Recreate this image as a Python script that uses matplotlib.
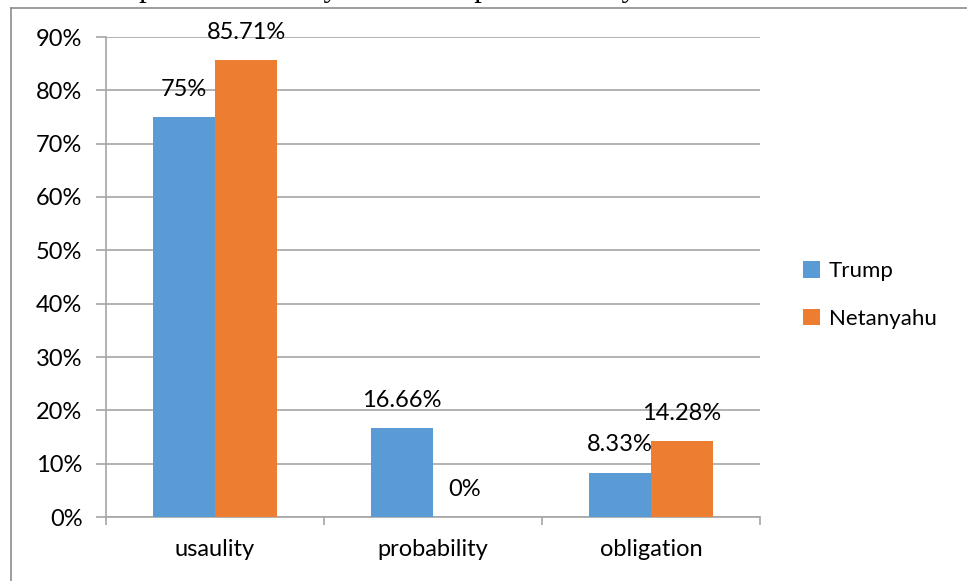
import matplotlib
matplotlib.use("Agg")
import matplotlib.pyplot as plt
from matplotlib.lines import Line2D
from matplotlib.patches import Patch
import numpy as np

categories = ["usaulity", "probability", "obligation"]
series_names = ["Trump", "Netanyahu"]
trump = [75.0, 16.66, 8.33]
netanyahu = [85.71, 0.0, 14.28]
value_labels = {
    "Trump": ["75%", "16.66%", "8.33%"],
    "Netanyahu": ["85.71%", "0%", "14.28%"],
}
y_ticks = [0, 10, 20, 30, 40, 50, 60, 70, 80, 90]
y_tick_labels = [f"{t}%" for t in y_ticks]

blue = "#5B9BD5"
orange = "#ED7D31"
grid_c = "#A6A6A6"
font = ["Lato", "DejaVu Sans"]
fs = 17

W, H = 967, 581
fig = plt.figure(figsize=(W / 100, H / 100), dpi=100)

# caption line above the chart frame (mostly outside the page area)
fig.text(40 / W, 1 + 4 / H, "modal operators used by both Trump and Netanyahu.",
         family=["Liberation Serif"], fontsize=22, va="baseline", ha="left",
         color="#000000")

# chart frame
fig.add_artist(Line2D([11 / W, 1.0], [1 - 8 / H, 1 - 8 / H], color="#8C8C8C", lw=1.2))
fig.add_artist(Line2D([11 / W, 11 / W], [0, 1 - 8 / H], color="#8C8C8C", lw=1.2))

ax = fig.add_axes([106 / W, (H - 517) / H, 654 / W, 480 / H])

x = np.arange(len(categories))
bw = 0.285
bars_t = ax.bar(x - bw / 2, trump, bw, color=blue, label=series_names[0], zorder=3)
bars_n = ax.bar(x + bw / 2, netanyahu, bw, color=orange, label=series_names[1], zorder=3)

for bars, name in ((bars_t, "Trump"), (bars_n, "Netanyahu")):
    for b, lab in zip(bars, value_labels[name]):
        ax.annotate(lab, (b.get_x() + b.get_width() / 2, b.get_height()),
                    xytext=(0, 20), textcoords="offset points",
                    ha="center", va="center", family=font, fontsize=fs,
                    color="#000000", zorder=4)

ax.set_xlim(-0.5, len(categories) - 0.5)
ax.set_ylim(0, 90)
ax.set_yticks(y_ticks)
ax.set_yticklabels(y_tick_labels, family=font, fontsize=fs)
ax.yaxis.grid(True, color=grid_c, lw=1.2, zorder=0)
ax.set_axisbelow(True)

ax.set_xticks(x)
ax.set_xticklabels(categories, family=font, fontsize=fs)
ax.set_xticks(np.arange(len(categories) + 1) - 0.5, minor=True)
ax.tick_params(axis="x", which="major", length=0, pad=16)
ax.tick_params(axis="x", which="minor", length=6, color=grid_c, width=1.2)
ax.tick_params(axis="y", which="major", length=7, color=grid_c, width=1.2, pad=10)

for s in ("top", "right"):
    ax.spines[s].set_visible(False)
for s in ("left", "bottom"):
    ax.spines[s].set_color(grid_c)
    ax.spines[s].set_linewidth(1.2)

handles = [Patch(facecolor=blue, label=series_names[0]),
           Patch(facecolor=orange, label=series_names[1])]
fig.legend(handles=handles, loc="center left", bbox_to_anchor=(783 / W, 1 - 295 / H),
           frameon=False, prop={"family": font, "size": 16},
           handlelength=0.75, handleheight=0.75, handletextpad=0.4, labelspacing=1.25)

fig.savefig("out.png", dpi=100, facecolor="white")
